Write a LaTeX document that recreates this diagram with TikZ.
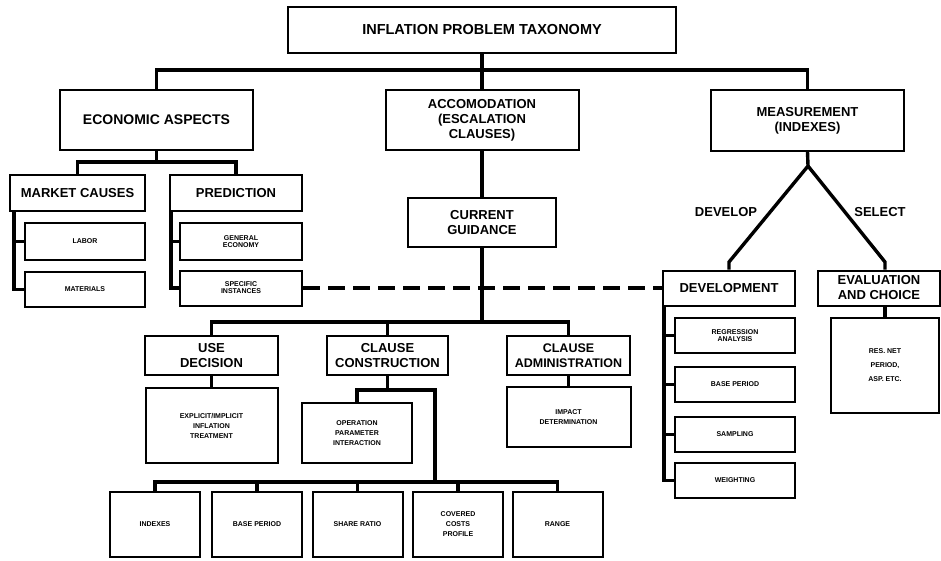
\documentclass[tikz,border=0pt]{standalone}
\usepackage{fontspec}
\setmainfont{Liberation Sans}
\begin{document}
\begin{tikzpicture}[x=1pt,y=-1pt,
  box/.style={draw, line width=2pt, inner sep=0pt, align=center, font=\bfseries\fontsize{13}{15}\selectfont},
  sbox/.style={box, font=\bfseries\fontsize{7}{10}\selectfont},
  sz/.style 2 args={minimum width=#1, minimum height=#2},
  conn/.style={line width=3.4pt, line join=miter},
  lbl/.style={font=\bfseries\fontsize{13}{15}\selectfont, inner sep=0pt}]
\useasboundingbox (0,0) rectangle (941,560);

% level 0
\node[box, sz={388}{46}, font=\bfseries\fontsize{14.5}{16}\selectfont] (top) at (482,30) {INFLATION PROBLEM TAXONOMY};

% level 1
\node[box, sz={193}{60}, font=\bfseries\fontsize{14}{16}\selectfont] (econ) at (156.5,120) {ECONOMIC ASPECTS};
\node[box, sz={193}{60}] (accom) at (482,120) {ACCOMODATION\\(ESCALATION\\CLAUSES)};
\node[box, sz={193}{61}] (meas) at (807.5,120.5) {MEASUREMENT\\(INDEXES)};

% economic aspects subtree
\node[box, sz={135}{36}] (market) at (77.5,193) {MARKET CAUSES};
\node[box, sz={132}{36}] (pred) at (236,193) {PREDICTION};
\node[sbox, sz={120}{37}] (labor) at (85,241.5) {LABOR};
\node[sbox, sz={120}{35}] (mater) at (85,289.5) {MATERIALS};
\node[sbox, sz={122}{37}] (general) at (241,241.5) {GENERAL\\[-3pt]ECONOMY};
\node[sbox, sz={122}{35}] (specific) at (241,288) {SPECIFIC\\[-3pt]INSTANCES};

% accomodation subtree
\node[box, sz={148}{49}] (current) at (482,222.5) {CURRENT\\GUIDANCE};
\node[box, sz={133}{39}] (use) at (211.5,355.5) {USE\\DECISION};
\node[box, sz={121}{39}] (cons) at (387.5,355.5) {CLAUSE\\CONSTRUCTION};
\node[box, sz={123}{39}, font=\bfseries\fontsize{12.5}{15}\selectfont] (adm) at (568.5,355.5) {CLAUSE\\ADMINISTRATION};
\node[sbox, sz={132}{75}] (expl) at (211.5,425.5) {EXPLICIT/IMPLICIT\\INFLATION\\TREATMENT};
\node[sbox, sz={110}{60}] (oper) at (357,433) {OPERATION\\PARAMETER\\INTERACTION};
\node[sbox, sz={124}{60}] (impact) at (568.5,417) {IMPACT\\DETERMINATION};

\node[sbox, sz={90}{65}] (b1) at (155,524.5) {INDEXES};
\node[sbox, sz={90}{65}] (b2) at (257,524.5) {BASE PERIOD};
\node[sbox, sz={90}{65}] (b3) at (357.5,524.5) {SHARE RATIO};
\node[sbox, sz={90}{65}] (b4) at (458,524.5) {COVERED\\COSTS\\PROFILE};
\node[sbox, sz={90}{65}] (b5) at (557.5,524.5) {RANGE};

% measurement subtree
\node[box, sz={132}{35}] (dev) at (729,288) {DEVELOPMENT};
\node[box, sz={122}{35}] (eval) at (879,288) {EVALUATION\\AND CHOICE};
\node[sbox, sz={120}{35}] (reg) at (735,335.5) {REGRESSION\\[-3pt]ANALYSIS};
\node[sbox, sz={120}{35}] (base) at (735,384.5) {BASE PERIOD};
\node[sbox, sz={120}{35}] (samp) at (735,434.5) {SAMPLING};
\node[sbox, sz={120}{35}] (weigh) at (735,480.5) {WEIGHTING};
\node[sbox, sz={108}{95}] (evsub) at (885,365.5) {RES. NET\\[4pt]PERIOD,\\[4pt]ASP. ETC.};

\node[lbl] (ldev) at (726,212) {DEVELOP};
\node[lbl] (lsel) at (880,212) {SELECT};

% connectors: level 0 -> 1
\draw[conn] (top.south) -- (accom.north);
\draw[conn] (econ.north) -- ++(0,-19) -| (meas.north);

% economic aspects
\coordinate (ebar) at (156.5,162);
\draw[conn] (econ.south) -- (ebar);
\draw[conn] (market.north) |- (ebar) -| (pred.north);
\draw[conn] ([xshift=5pt]market.south west) |- (mater.west);
\draw[conn] (labor.west) -- ++(-10,0);
\draw[conn] ([xshift=2pt]pred.south west) |- (specific.west);
\draw[conn] (general.west) -- ++(-8,0);

% accomodation
\draw[conn] (accom.south) -- (current.north);
\coordinate (gbar) at (482,322);
\draw[conn] (current.south) -- (gbar);
\draw[conn] (use.north) |- (gbar) -| (adm.north);
\draw[conn] (cons.north) -- (cons.north |- gbar);
\draw[conn] (use.south) -- (expl.north);
\draw[conn] (adm.south) -- (impact.north);
\coordinate (cb) at (387.5,390);
\coordinate (cr) at (435,390);
\coordinate (bb) at (435,482);
\draw[conn] (cons.south) -- (cb);
\draw[conn] (oper.north) |- (cr) -- (bb);
\draw[conn] (b1.north) |- (bb) -| (b5.north);
\draw[conn] (b2.north) -- (b2.north |- bb);
\draw[conn] (b3.north) -- (b3.north |- bb);
\draw[conn] (b4.north) -- (b4.north |- bb);

% dashed link
\draw[conn, dash pattern=on 17pt off 8pt] (specific.east) -- (dev.west);

% measurement
\coordinate (apex) at (808,166);
\coordinate (dl) at (729,262);
\coordinate (sl) at (885,262);
\draw[conn] (meas.south) -- (apex) -- (dl) -- (dev.north);
\draw[conn] (apex) -- (sl) -- ([xshift=6pt]eval.north);
\draw[conn] ([xshift=2pt]dev.south west) |- (weigh.west);
\draw[conn] (reg.west) -- ++(-10,0);
\draw[conn] (base.west) -- ++(-10,0);
\draw[conn] (samp.west) -- ++(-10,0);
\draw[conn] ([xshift=6pt]eval.south) -- (evsub.north);
\end{tikzpicture}
\end{document}
